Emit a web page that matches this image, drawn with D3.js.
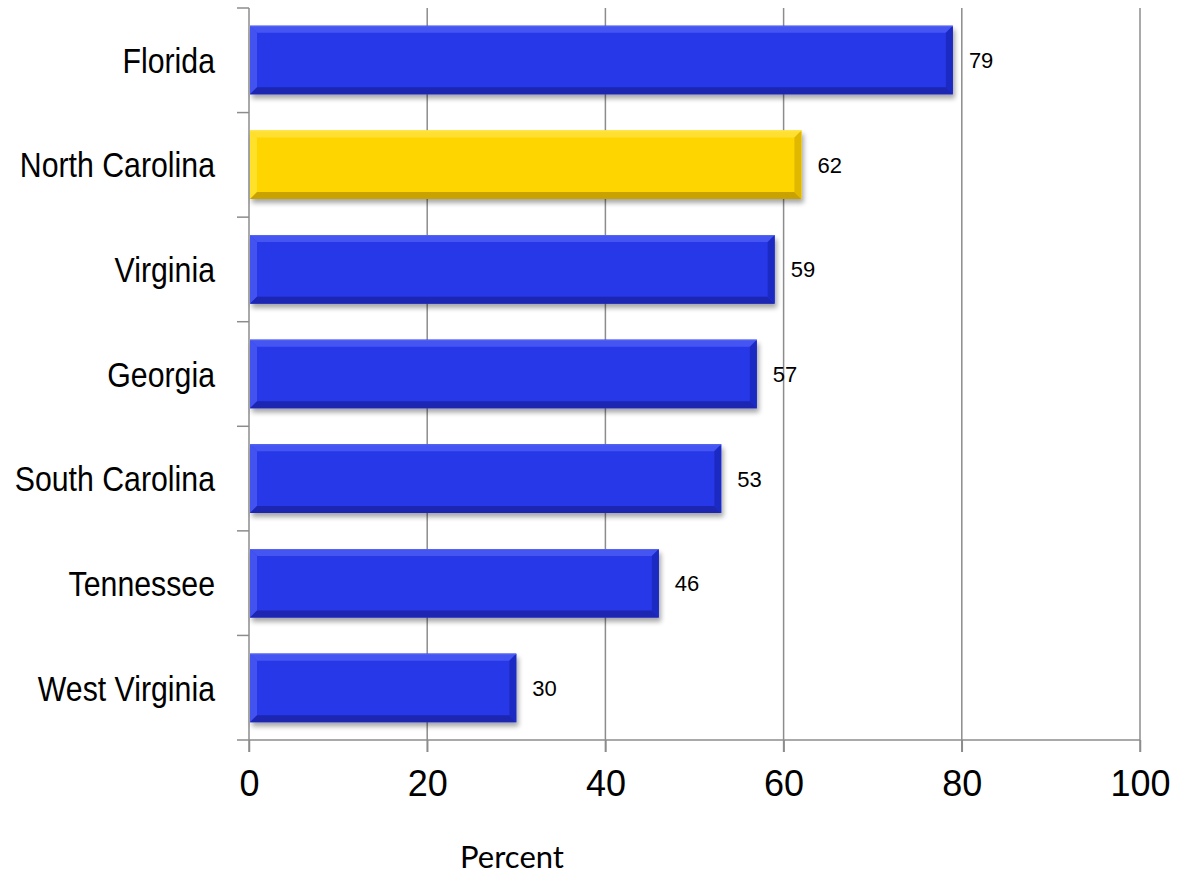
<!DOCTYPE html>
<html>
<head>
<meta charset="utf-8">
<script src="https://cdn.jsdelivr.net/npm/d3@7"></script>
<style>
  html, body { margin: 0; padding: 0; background: #fff; }
  svg { display: block; }
</style>
</head>
<body>
<svg id="chart" width="1182" height="880"></svg>
<script>
// Share of respondents by state (percent)
const states = ["Florida", "North Carolina", "Virginia", "Georgia", "South Carolina", "Tennessee", "West Virginia"];
const values = [79, 62, 59, 57, 53, 46, 30];
const highlighted = ["North Carolina"];
const xTicks = [0, 20, 40, 60, 80, 100];
const xTitle = "Percent";

const svg = d3.select("#chart");
const margin = { left: 249, right: 42, top: 8, bottom: 140 };
const W = 1182, H = 880;

const x = d3.scaleLinear().domain([0, 100]).range([margin.left, W - margin.right]);
const y = d3.scaleBand().domain(states).range([margin.top, H - margin.bottom]).paddingInner(0.345).paddingOuter(0.17);

// drop shadow under the bars
const defs = svg.append("defs");
const f = defs.append("filter").attr("id", "shadow").attr("x", "-5%").attr("y", "-20%").attr("width", "115%").attr("height", "160%");
f.append("feGaussianBlur").attr("in", "SourceAlpha").attr("stdDeviation", 2.5).attr("result", "b");
f.append("feOffset").attr("in", "b").attr("dx", 2).attr("dy", 4).attr("result", "o");
f.append("feComponentTransfer").attr("in", "o").attr("result", "s")
  .append("feFuncA").attr("type", "linear").attr("slope", 0.35);
const m = f.append("feMerge");
m.append("feMergeNode").attr("in", "s");
m.append("feMergeNode").attr("in", "SourceGraphic");

// vertical gridlines
svg.append("g")
  .selectAll("line")
  .data(xTicks.slice(1))
  .join("line")
  .attr("x1", d => x(d)).attr("x2", d => x(d))
  .attr("y1", margin.top).attr("y2", H - margin.bottom + 12)
  .attr("stroke", "#8c8c8c").attr("stroke-width", 1.5);

// x axis
const xAxis = svg.append("g")
  .attr("transform", `translate(0,${H - margin.bottom})`)
  .call(d3.axisBottom(x).tickValues(xTicks).tickSize(12).tickPadding(18).tickFormat(d3.format("d")));
xAxis.select(".domain").attr("stroke", "#8c8c8c").attr("stroke-width", 1.5).attr("d", `M${x(0)},0H${x(100)}`);
xAxis.selectAll(".tick line").attr("stroke", "#8c8c8c").attr("stroke-width", 1.5);
xAxis.selectAll(".tick text")
  .attr("font-family", "Liberation Sans, Arial, sans-serif").attr("font-size", 36).attr("fill", "#000");

// y axis: boundary ticks between categories
const yTop = margin.top, yBot = H - margin.bottom;
const step = (yBot - yTop) / states.length;
const yAxisG = svg.append("g");
yAxisG.append("line")
  .attr("x1", x(0)).attr("x2", x(0)).attr("y1", yTop).attr("y2", yBot + 12)
  .attr("stroke", "#8c8c8c").attr("stroke-width", 1.5);
yAxisG.selectAll("line.tk")
  .data(d3.range(states.length + 1))
  .join("line").attr("class", "tk")
  .attr("x1", x(0) - 12).attr("x2", x(0))
  .attr("y1", i => yTop + i * step).attr("y2", i => yTop + i * step)
  .attr("stroke", "#8c8c8c").attr("stroke-width", 1.5);

// category labels (condensed sans)
svg.append("g")
  .selectAll("text")
  .data(states)
  .join("text")
  .attr("transform", d => `translate(${x(0) - 34},${y(d) + y.bandwidth() / 2}) scale(0.865,1)`)
  .attr("dy", "0.36em")
  .attr("text-anchor", "end")
  .attr("font-family", "Liberation Sans, Arial, sans-serif")
  .attr("font-size", 35)
  .attr("fill", "#000")
  .text(d => d);

// bevelled bars
const palette = {
  blue:   { face: "#2838e8", light: "#5565f4", top: "#4455f2", dark: "#1a26b0", right: "#1f2cc4" },
  yellow: { face: "#ffd500", light: "#ffe84a", top: "#ffe030", dark: "#c9a200", right: "#e0b800" }
};
const data = states.map((s, i) => ({ state: s, value: values[i] }));
const bars = svg.append("g").selectAll("g").data(data).join("g")
  .attr("filter", "url(#shadow)");

bars.each(function(d) {
  const g = d3.select(this);
  const c = highlighted.includes(d.state) ? palette.yellow : palette.blue;
  const x0 = x(0) + 1, x1 = x(d.value), y0 = y(d.state), y1 = y0 + y.bandwidth();
  const b = 7;
  g.append("rect").attr("x", x0).attr("y", y0).attr("width", x1 - x0).attr("height", y1 - y0).attr("fill", c.face);
  // top bevel
  g.append("path").attr("d", `M${x0},${y0}H${x1}L${x1 - b},${y0 + b}H${x0 + b}Z`).attr("fill", c.top);
  // left bevel
  g.append("path").attr("d", `M${x0},${y0}L${x0 + b},${y0 + b}V${y1 - b}L${x0},${y1}Z`).attr("fill", c.light).attr("opacity", 0.6);
  // bottom bevel
  g.append("path").attr("d", `M${x0},${y1}H${x1}L${x1 - b},${y1 - b}H${x0 + b}Z`).attr("fill", c.dark);
  // right bevel
  g.append("path").attr("d", `M${x1},${y0}L${x1 - b},${y0 + b}V${y1 - b}L${x1},${y1}Z`).attr("fill", c.right);
  // thin highlight along the top edge
  g.append("line").attr("x1", x0).attr("x2", x1).attr("y1", y0 + 0.5).attr("y2", y0 + 0.5).attr("stroke", c.light).attr("stroke-width", 1);
});

// value labels
svg.append("g")
  .selectAll("text")
  .data(data)
  .join("text")
  .attr("x", d => x(d.value) + 16)
  .attr("y", d => y(d.state) + y.bandwidth() / 2)
  .attr("dy", "0.36em")
  .attr("font-family", "Liberation Sans, Arial, sans-serif")
  .attr("font-size", 22)
  .attr("fill", "#000")
  .text(d => d.value);

// axis title
svg.append("text")
  .attr("x", 512).attr("y", 868)
  .attr("text-anchor", "middle")
  .attr("font-family", "Lato, Open Sans, sans-serif")
  .attr("font-size", 31)
  .attr("fill", "#000")
  .text(xTitle);
</script>
</body>
</html>
